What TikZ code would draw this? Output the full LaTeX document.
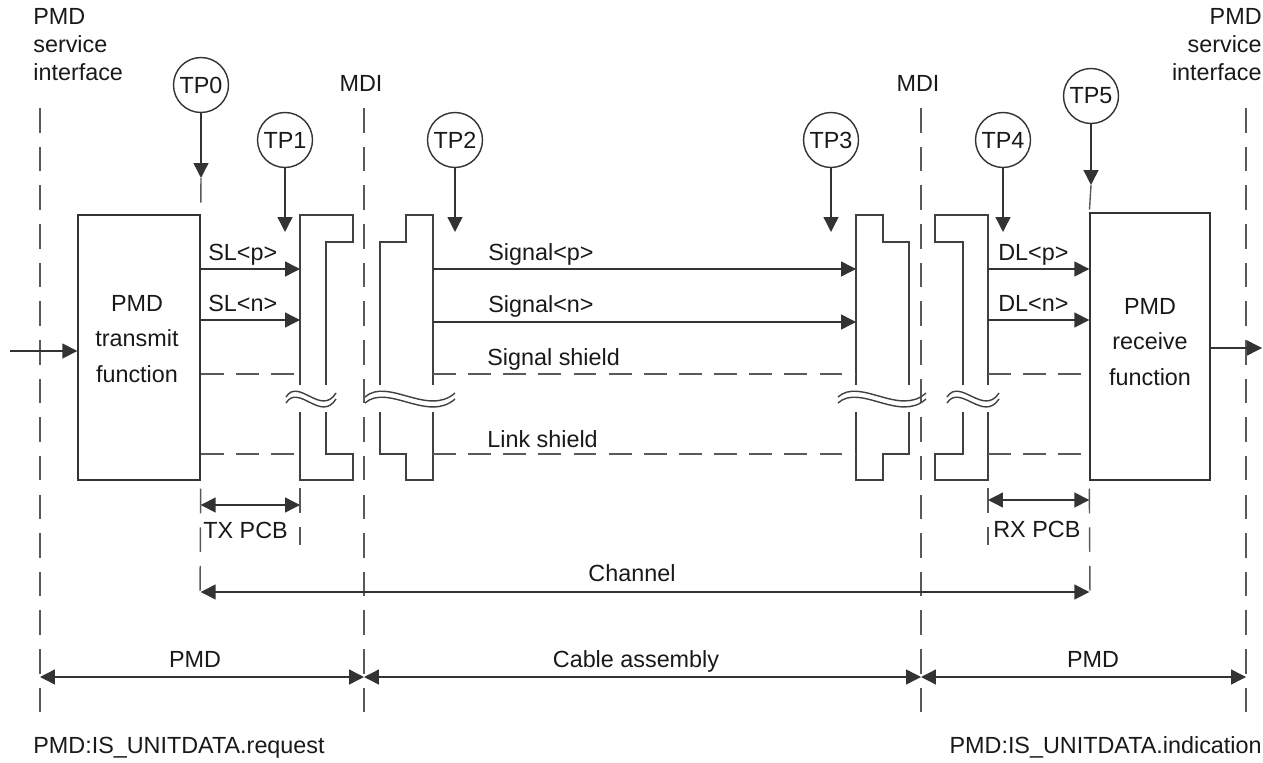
\documentclass[tikz,border=0pt]{standalone}
\usepackage{fontspec}
\setmainfont{Liberation Sans}
\usetikzlibrary{arrows.meta}

\tikzset{
  brk/.pic={
    \draw[pline] (-1,-5) .. controls (-0.5,-25) and (0.4,15) .. (1,-9);
    \draw[pline] (-1,1) .. controls (-0.5,-19) and (0.4,21) .. (1,-3);
  }
}

\begin{document}
\begin{tikzpicture}[x=0.02cm, y=-0.02cm,
  font=\fontsize{13.3}{16}\selectfont, text=black!90,
  pline/.style={draw=black!75, line width=0.8pt},
  dline/.style={draw=black!65, line width=0.8pt, dash pattern=on 14pt off 8pt},
  hdash/.style={draw=black!65, line width=0.8pt, dash pattern=on 13pt off 7pt},
  sig/.style={draw=black!80, line width=0.8pt, -{Triangle[length=8.5pt,width=8.5pt]}},
  dim/.style={draw=black!80, line width=0.8pt, {Triangle[length=8.5pt,width=8.5pt]}-{Triangle[length=8.5pt,width=8.5pt]}},
  tp/.style={circle, draw=black!80, line width=0.8pt, minimum size=1.1cm, inner sep=0pt},
  fbox/.style={draw=black!80, line width=0.8pt, inner sep=0pt},
  btxt/.style={align=center, anchor=base, inner sep=0pt, font=\fontsize{13.3}{20}\selectfont},
  lbl/.style={inner sep=0pt}]
	\useasboundingbox (0,0) rectangle (1263,763);
	% interface and MDI lines
	\foreach \x/\n in {40/ifl, 364/mdil, 921/mdir, 1246/ifr}{
		\coordinate (\n) at (\x,677);
		\draw[dline] (\x,108) -- (\x,720);
	}
	\node[lbl, anchor=base west, align=left] (sil) at (33,81) {PMD\\service\\interface};
	\node[lbl, anchor=base east, align=right] (sir) at (1262,81) {PMD\\service\\interface};
	\node[lbl, anchor=base] (mdill) at (361,92) {MDI};
	\node[lbl, anchor=base] (mdirl) at (918,92) {MDI};
	% function boxes
	\node[fbox, minimum width=2.44cm, minimum height=5.3cm] (tx) at (139,347.5) {};
	\node[fbox, minimum width=2.4cm, minimum height=5.34cm] (rx) at (1150,346.5) {};
	\node[btxt] (txl) at (137,382) {PMD\\transmit\\function};
	\node[btxt] (rxl) at (1150,385) {PMD\\receive\\function};
	\coordinate (in) at (10,351);
	\coordinate (out) at (1262,348);
	\draw[sig] (in) -- (in -| tx.west);
	\draw[sig] (out -| rx.east) -- (out);
	% connectors
	\draw[pline] (326,385) -- (326,242) -- (353,242) -- (353,215) -- (300,215) -- (300,385)
		(300,412) -- (300,480) -- (353,480) -- (353,454) -- (326,454) -- (326,412);
	\draw[pline] (380,385) -- (380,242) -- (406,242) -- (406,215) -- (433,215) -- (433,385)
		(433,412) -- (433,480) -- (406,480) -- (406,454) -- (380,454) -- (380,412);
	\draw[pline] (909,385) -- (909,242) -- (883,242) -- (883,215) -- (856,215) -- (856,385)
		(856,412) -- (856,480) -- (883,480) -- (883,454) -- (909,454) -- (909,412);
	\draw[pline] (963,385) -- (963,242) -- (935,242) -- (935,215) -- (988,215) -- (988,385)
		(988,412) -- (988,480) -- (935,480) -- (935,454) -- (963,454) -- (963,412);
	\pic[xscale=25] at (311,402) {brk};
	\pic[xscale=45] at (410,402) {brk};
	\pic[xscale=44] at (882,402) {brk};
	\pic[xscale=26] at (973,402) {brk};
	\coordinate (txc) at (300,0);
	\coordinate (cl) at (433,0);
	\coordinate (cr) at (856,0);
	\coordinate (rxc) at (988,0);
	% shields
	\foreach \y in {374,454}
		\draw[hdash] (tx.east |- 0,\y) -- (txc |- 0,\y) (cl |- 0,\y) -- (cr |- 0,\y) (rxc |- 0,\y) -- (rx.west |- 0,\y);
	\node[lbl, anchor=base west] (ssl) at (487,365) {Signal shield};
	\node[lbl, anchor=base west] (lsl) at (487,447) {Link shield};
	% signals
	\draw[sig] (tx.east |- 0,269) -- (txc |- 0,269);
	\draw[sig] (tx.east |- 0,320) -- (txc |- 0,320);
	\draw[sig] (cl |- 0,269) -- (cr |- 0,269);
	\draw[sig] (cl |- 0,322) -- (cr |- 0,322);
	\draw[sig] (rxc |- 0,269) -- (rx.west |- 0,269);
	\draw[sig] (rxc |- 0,320) -- (rx.west |- 0,320);
	\node[lbl, anchor=base west] (slp) at (208,261) {SL<p>};
	\node[lbl, anchor=base west] (sln) at (208,312) {SL<n>};
	\node[lbl, anchor=base west] (sgp) at (488,261) {Signal<p>};
	\node[lbl, anchor=base west] (sgn) at (488,313) {Signal<n>};
	\node[lbl, anchor=base west] (dlp) at (998,261) {DL<p>};
	\node[lbl, anchor=base west] (dln) at (998,312) {DL<n>};
	% test points
	\node[tp] (tp0) at (201,85) {TP0};
	\node[tp] (tp1) at (285,140) {TP1};
	\node[tp] (tp2) at (455,140) {TP2};
	\node[tp] (tp3) at (831,140) {TP3};
	\node[tp] (tp4) at (1003,140) {TP4};
	\node[tp] (tp5) at (1091,96) {TP5};
	\coordinate (tp0e) at (201,178);
	\coordinate (tp5e) at (1091,185);
	\draw[sig] (tp0) -- (tp0e);
	\draw[sig] (tp5) -- (tp5e);
	\foreach \n in {1,2,3,4}
		\draw[sig] (tp\n) -- (tp\n |- 0,232);
	\draw[dline] (tp0e) -- (tx.north east);
	\draw[dline] (tp5e) -- (rx.north west);
	% PCB and channel
	\draw[dline] (tx.south east) ++(0,8) -- (200,600);
	\draw[dline] (rx.south west) ++(0,8) -- (1090,600);
	\draw[dline] (txc |- 0,488) -- (txc |- 0,545);
	\draw[dline] (rxc |- 0,488) -- (rxc |- 0,545);
	\draw[dim] (tx.east |- 0,505) -- (txc |- 0,505);
	\draw[dim] (rxc |- 0,500) -- (rx.west |- 0,500);
	\node[lbl, anchor=base west] (txpcb) at (203,538) {TX PCB};
	\node[lbl, anchor=base west] (rxpcb) at (993,537) {RX PCB};
	\draw[dim] (tx.east |- 0,592) -- (rx.west |- 0,592);
	\node[lbl, anchor=base] (chl) at (632,581) {Channel};
	% bottom spans
	\draw[dim] (ifl) -- (mdil);
	\draw[dim] (mdil) -- (mdir);
	\draw[dim] (mdir) -- (ifr);
	\node[lbl, anchor=base] (pmdl) at (195,667) {PMD};
	\node[lbl, anchor=base] (cabl) at (636,667) {Cable assembly};
	\node[lbl, anchor=base] (pmdr) at (1093,667) {PMD};
	\node[lbl, anchor=base west] (req) at (33,753) {PMD:IS\_UNITDATA.request};
	\node[lbl, anchor=base east] (ind) at (1262,753) {PMD:IS\_UNITDATA.indication};
\end{tikzpicture}
\end{document}
